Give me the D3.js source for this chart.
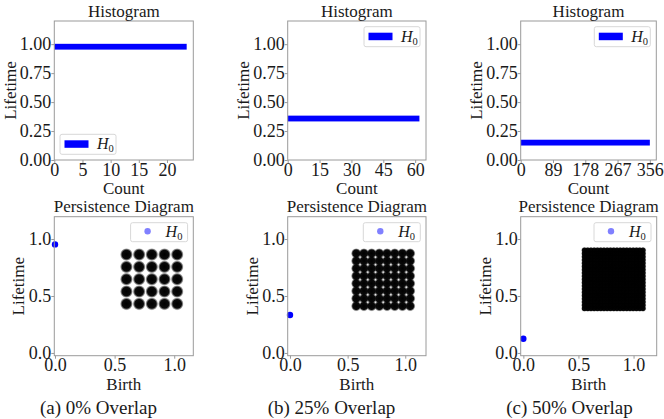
<!DOCTYPE html>
<html>
<head>
<meta charset="utf-8">
<script src="https://cdnjs.cloudflare.com/ajax/libs/d3/7.8.5/d3.min.js"></script>
<style>
body { margin: 0; background: #fff; }
svg text { font-family: "Liberation Serif", "DejaVu Serif", serif; fill: #1a1a1a; }
</style>
</head>
<body>
<div id="chart"></div>
<script>
// values
var captions = ["(a) 0% Overlap", "(b) 25% Overlap", "(c) 50% Overlap"];
var lifetimes = [0.953, 0.333, 0.125];
var births = [0, 0, 0];
var counts = [23.5, 62, 356];
var countTicks = [[0, 5, 10, 15, 20], [0, 15, 30, 45, 60], [0, 89, 178, 267, 356]];
var histLifeTicks = [0, 0.25, 0.5, 0.75, 1.0];
var diagramTicks = [0, 0.5, 1.0];
var birthDomains = [[-0.006, 1.16], [-0.02, 1.18], [-0.024, 1.21]];
var gridSizes = [5, 8, 19];
var overlaps = [0, 0.25, 0.5];
var imageX = [[0.546, 1.078], [0.53, 1.087], [0.525, 1.115]];
var imageY = [[0.377, 0.918], [0.368, 0.918], [0.362, 0.93]];
var binHeight = 0.05;

var width = 664;
var height = 419;
var colLeft = [54.3, 287.7, 520.7];
var colWidth = [139, 138.3, 135.6];
var topY = 21;
var botY = 216.7;
var axH = 139;
var captionX = [98.5, 331.5, 569.5];
var tickFs = 18;
var labelFs = 17;
var captionFs = 19;
var serif = "'Liberation Serif', 'DejaVu Serif', serif";
var spine = "#9a9a9a";

var svg = d3
  .select("#chart")
  .append("svg")
  .attr("width", width)
  .attr("height", height)
  .attr("font-family", serif);

svg.append("rect").attr("width", width).attr("height", height).attr("fill", "#fff");

var grad = svg
  .append("defs")
  .append("radialGradient")
  .attr("id", "blob");
grad.append("stop").attr("offset", "0%").attr("stop-color", "#000").attr("stop-opacity", 1);
grad.append("stop").attr("offset", "68%").attr("stop-color", "#000").attr("stop-opacity", 0.96);
grad.append("stop").attr("offset", "100%").attr("stop-color", "#000").attr("stop-opacity", 0.1);

function styleAxis(g) {
  g.attr("font-family", serif).attr("font-size", tickFs);
  g.select(".domain").remove();
  g.selectAll(".tick line").attr("stroke", spine);
  g.selectAll(".tick text")
    .style("font-family", serif)
    .style("font-size", tickFs + "px")
    .attr("fill", "#1a1a1a");
}

function label(sel, x, y, str, size) {
  return sel.append("text")
    .attr("x", x)
    .attr("y", y)
    .attr("text-anchor", "middle")
    .style("font-family", serif)
    .style("font-size", (size || labelFs) + "px")
    .text(str);
}

function frame(g, x, y, w, h) {
  g.append("rect")
    .attr("x", x)
    .attr("y", y)
    .attr("width", w)
    .attr("height", h)
    .attr("fill", "none")
    .attr("stroke", spine)
    .attr("stroke-width", 1);
}

function h0Label(sel, x, y) {
  var t = sel.append("text").attr("x", x).attr("y", y).style("font-family", serif).style("font-size", "16px");
  t.append("tspan").style("font-style", "italic").text("H");
  t.append("tspan").style("font-size", "10.5px").attr("dy", 3).text("0");
}

function drawHistogram(i) {
  var x0 = colLeft[i];
  var w = colWidth[i];
  var g = svg.append("g");

  var xs = d3.scaleLinear().domain([0, counts[i] * 1.05]).range([x0, x0 + w]);
  var ys = d3.scaleLinear().domain([0, 1.2]).range([topY + axH, topY]);

  g.selectAll(".bar")
    .data([{ life: lifetimes[i], count: counts[i] }])
    .enter()
    .append("rect")
    .attr("class", "bar")
    .attr("x", xs(0))
    .attr("width", function(d) {
      return xs(d.count) - xs(0);
    })
    .attr("y", function(d) {
      return ys(d.life + binHeight);
    })
    .attr("height", function(d) {
      return ys(d.life) - ys(d.life + binHeight);
    })
    .attr("fill", "#0000ff");

  frame(g, x0, topY, w, axH);

  g.append("g")
    .attr("transform", "translate(0," + (topY + axH) + ")")
    .call(d3.axisBottom(xs).tickValues(countTicks[i]).tickSize(3).tickPadding(0).tickFormat(d3.format("d")))
    .call(styleAxis);

  g.append("g")
    .attr("transform", "translate(" + x0 + ",0)")
    .call(d3.axisLeft(ys).tickValues(histLifeTicks).tickSize(3).tickPadding(0).tickFormat(d3.format(".2f")))
    .call(styleAxis);

  label(g, x0 + w / 2, topY - 4, "Histogram");
  label(g, x0 + w / 2, 193.5, "Count");
  label(g, 0, 0, "Lifetime")
    .attr("transform", "translate(" + (x0 - 38.5) + "," + (topY + axH / 2) + ") rotate(-90)");

  // legend: bottom-left in (a), top-right otherwise
  var lw = 56, lh = 20;
  var lx = i == 0 ? x0 + 5.7 : x0 + w - 6 - lw;
  var ly = i == 0 ? topY + axH - 5.7 - lh : topY + 5.7;
  var leg = g.append("g");
  leg.append("rect")
    .attr("x", lx).attr("y", ly).attr("width", lw).attr("height", lh)
    .attr("rx", 2)
    .attr("fill", "#fff").attr("fill-opacity", 0.8)
    .attr("stroke", "#d8d8d8");
  leg.append("rect")
    .attr("x", lx + 4.5).attr("y", ly + 6).attr("width", 24).attr("height", 7.5)
    .attr("fill", "#0000ff");
  h0Label(leg, lx + 37, ly + 15);
}

function drawDiagram(i) {
  var x0 = colLeft[i];
  var w = i == 2 ? 136 : colWidth[i];
  var g = svg.append("g");

  var xs = d3.scaleLinear().domain(birthDomains[i]).range([x0, x0 + w]);
  var ys = d3.scaleLinear().domain([-0.024, 1.196]).range([botY + axH, botY]);

  // the sample image drawn inside the diagram
  var n = gridSizes[i];
  var ext = xs(imageX[i][1]) - xs(imageX[i][0]);
  var extY = ys(imageY[i][0]) - ys(imageY[i][1]);
  var d = ext / ((n - 1) * (1 - overlaps[i]) + 1);
  var dy = extY / ((n - 1) * (1 - overlaps[i]) + 1);
  var cells = [];
  d3.range(n).forEach(function(r) {
    d3.range(n).forEach(function(c) {
      cells.push({ r: r, c: c });
    });
  });
  g.append("g")
    .selectAll("circle")
    .data(cells)
    .enter()
    .append("circle")
    .attr("cx", function(e) {
      return xs(imageX[i][0]) + d / 2 + e.c * d * (1 - overlaps[i]);
    })
    .attr("cy", function(e) {
      return ys(imageY[i][1]) + dy / 2 + e.r * dy * (1 - overlaps[i]);
    })
    .attr("r", d / 2)
    .attr("fill", "url(#blob)");

  g.selectAll(".pt")
    .data([{ b: births[i], l: lifetimes[i] }])
    .enter()
    .append("circle")
    .attr("class", "pt")
    .attr("cx", function(p) {
      return xs(p.b);
    })
    .attr("cy", function(p) {
      return ys(p.l);
    })
    .attr("r", 3.2)
    .attr("fill", "#0000ff");

  frame(g, x0, botY, w, axH);

  g.append("g")
    .attr("transform", "translate(0," + (botY + axH) + ")")
    .call(d3.axisBottom(xs).tickValues(diagramTicks).tickSize(3).tickPadding(0).tickFormat(d3.format(".1f")))
    .call(styleAxis);

  g.append("g")
    .attr("transform", "translate(" + x0 + ",0)")
    .call(d3.axisLeft(ys).tickValues(diagramTicks).tickSize(3).tickPadding(0).tickFormat(d3.format(".1f")))
    .call(styleAxis);

  label(g, x0 + w / 2, botY - 4.5, "Persistence Diagram");
  label(g, x0 + w / 2, 390, "Birth");
  label(g, 0, 0, "Lifetime")
    .attr("transform", "translate(" + (x0 - 30) + "," + (botY + axH / 2) + ") rotate(-90)");

  var lw = 57, lh = 19;
  var lx = x0 + w - 5.7 - lw;
  var ly = botY + 6;
  var leg = g.append("g");
  leg.append("rect")
    .attr("x", lx).attr("y", ly).attr("width", lw).attr("height", lh)
    .attr("rx", 2)
    .attr("fill", "#fff").attr("fill-opacity", 0.8)
    .attr("stroke", "#d8d8d8");
  leg.append("circle")
    .attr("cx", lx + 17).attr("cy", ly + 8.5).attr("r", 3.2)
    .attr("fill", "#8080ff");
  h0Label(leg, lx + 35, ly + 14);

  label(svg, captionX[i], 414, captions[i], captionFs);
}

for (var k = 0; k < 3; k++) {
  drawHistogram(k);
  drawDiagram(k);
}
</script>
</body>
</html>
